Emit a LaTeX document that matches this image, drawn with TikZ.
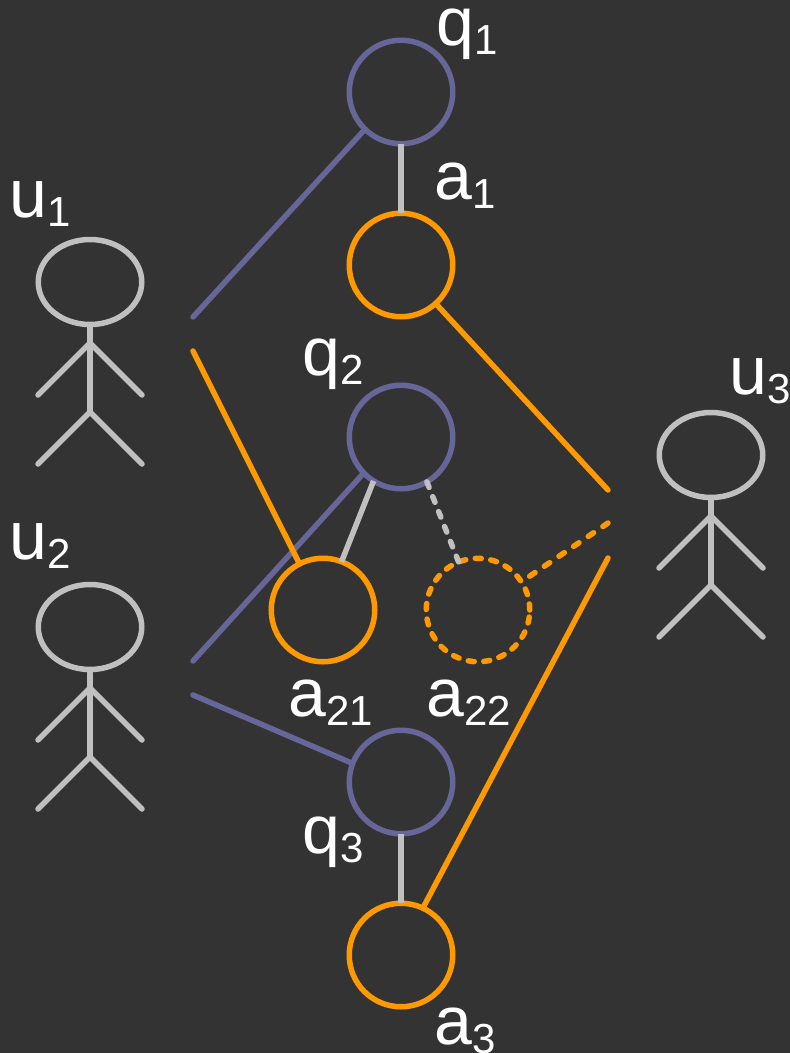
\documentclass[tikz,border=0pt]{standalone}
\usepackage{fontspec}
\setmainfont{Liberation Sans}
\usetikzlibrary{shapes.geometric}
\definecolor{bgc}{HTML}{333333}
\definecolor{pur}{HTML}{666699}
\definecolor{ora}{HTML}{FF9900}
\definecolor{gry}{HTML}{C0C0C0}
\newcommand{\lbl}[2]{\fontsize{68}{68}\selectfont #1\raisebox{-9pt}{\fontsize{42}{42}\selectfont #2}}
\tikzset{
  ball/.style={circle,draw=#1,line width=5.5pt,minimum size=103.5pt,inner sep=0pt,outer sep=0pt},
  dball/.style={ball=#1,line width=5.5pt,dash pattern=on 6pt off 9.6pt,line cap=round},
  head/.style={ellipse,draw=gry,line width=5.5pt,minimum width=103.5pt,minimum height=85pt,inner sep=0pt,outer sep=0pt},
  link/.style={line width=5.5pt,line cap=round,draw=#1},
  dlink/.style={link=#1,line width=5.5pt,dash pattern=on 6.5pt off 11.2pt},
  limb/.style={line width=5.5pt,line cap=round,line join=round,draw=gry},
  txt/.style={text=white,inner sep=0pt,anchor=base west}
}
\begin{document}
\begin{tikzpicture}[x=1pt,y=-1pt]
\fill[bgc] (0,0) rectangle (790,1053);
\useasboundingbox (0,0) rectangle (790,1053);
% free ends
\coordinate (f1) at (193,317);
\coordinate (f2) at (193,351);
\coordinate (f3) at (193,661);
\coordinate (f4) at (193,695);
\coordinate (f5) at (608,490);
\coordinate (f6) at (608,523);
\coordinate (f7) at (608,558);
% circles
\node[ball=pur] (q1) at (401,92) {};
\node[ball=ora] (a1) at (401,265) {};
\node[ball=pur] (q2) at (401,437) {};
\node[ball=ora] (a21) at (323,610) {};
\node[dball=ora] (a22) at (478,610) {};
\node[ball=pur] (q3) at (401,782) {};
\node[ball=ora] (a3) at (401,955) {};
% connectors
\draw[link=gry,line cap=butt] (q1.south) -- (a1.north);
\draw[link=gry,line cap=butt] (q3.south) -- (a3.north);
\draw[link=gry,line cap=butt] (q2.238) -- (a21.69);
\draw[dlink=gry,dash pattern=on 6pt off 10pt] (q2.300) -- (a22.112);
\draw[link=pur] (f1) -- (q1.226);
\draw[link=pur] (f3) -- (q2.224);
\draw[link=pur] (f4) -- (q3.159);
\draw[link=ora] (f2) -- (a21.117);
\draw[link=ora] (a1.312) -- (f5);
\draw[dlink=ora,shorten <=10pt] (a22.33) -- (f6);
\draw[link=ora] (a3.65) -- (f7);
% actors
\foreach \n/\ox/\oy in {u1/0/0,u2/0/345,u3/621/173}{
  \begin{scope}[shift={(\ox,\oy)}]
    \node[head] (\n) at (90,282) {};
    \coordinate (\n hip) at (90,412);
    \coordinate (\n arm) at (90,343);
    \coordinate (\n la) at (38,395);
    \coordinate (\n ra) at (142,395);
    \coordinate (\n ll) at (38,464);
    \coordinate (\n rl) at (142,464);
    \draw[limb,line cap=butt] (\n.south) -- (\n hip);
    \draw[limb] (\n la) -- (\n arm) -- (\n ra);
    \draw[limb] (\n ll) -- (\n hip) -- (\n rl);
  \end{scope}
}
% labels
\node[txt] (lq1) at (436,45) {\lbl{q}{1}};
\node[txt] (la1) at (434,199) {\lbl{a}{1}};
\node[txt] (lu1) at (9,217) {\lbl{u}{1}};
\node[txt] (lq2) at (302,375) {\lbl{q}{2}};
\node[txt] (lu3) at (729,394) {\lbl{u}{3}};
\node[txt] (lu2) at (9,559) {\lbl{u}{2}};
\node[txt] (la21) at (288,716) {\lbl{a}{21}};
\node[txt] (la22) at (426,716) {\lbl{a}{22}};
\node[txt] (lq3) at (302,853) {\lbl{q}{3}};
\node[txt] (la3) at (434,1044) {\lbl{a}{3}};
\end{tikzpicture}
\end{document}
